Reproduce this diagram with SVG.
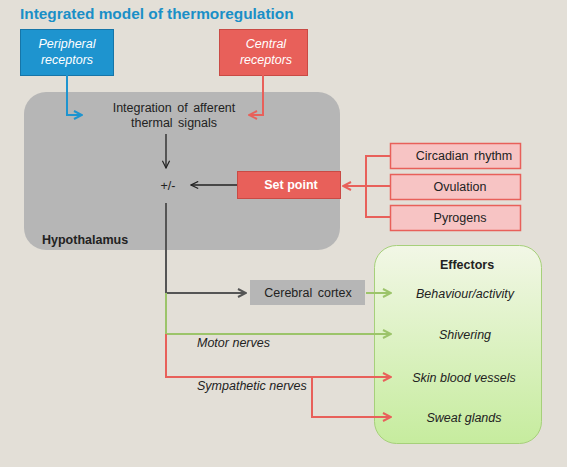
<svg xmlns="http://www.w3.org/2000/svg" width="567" height="467" viewBox="0 0 567 467">
<defs>
<linearGradient id="eg" x1="0" y1="0" x2="0" y2="1">
<stop offset="0" stop-color="#f2f7e6"/>
<stop offset="1" stop-color="#c6ec9e"/>
</linearGradient>
<marker id="aBlue" viewBox="0 0 10 10" refX="9" refY="5" markerWidth="5" markerHeight="5" orient="auto" markerUnits="strokeWidth"><path d="M1,1 L9,5 L1,9" fill="none" stroke="#1e94cf" stroke-width="2"/></marker>
<marker id="aRed" viewBox="0 0 10 10" refX="9" refY="5" markerWidth="5" markerHeight="5" orient="auto" markerUnits="strokeWidth"><path d="M1,1 L9,5 L1,9" fill="none" stroke="#e8605a" stroke-width="2"/></marker>
<marker id="aBlk" viewBox="0 0 10 10" refX="9" refY="5" markerWidth="9" markerHeight="9" orient="auto" markerUnits="userSpaceOnUse"><path d="M1,1 L9,5 L1,9" fill="none" stroke="#222" stroke-width="1.3"/></marker>
<marker id="aGray" viewBox="0 0 10 10" refX="9" refY="5" markerWidth="5" markerHeight="5" orient="auto" markerUnits="strokeWidth"><path d="M1,1 L9,5 L1,9" fill="none" stroke="#555" stroke-width="2"/></marker>
<marker id="aGreen" viewBox="0 0 10 10" refX="9" refY="5" markerWidth="5" markerHeight="5" orient="auto" markerUnits="strokeWidth"><path d="M1,1 L9,5 L1,9" fill="none" stroke="#9cc46a" stroke-width="2"/></marker>
</defs>
<style>
text{font-family:"Liberation Sans",Arial,sans-serif;font-size:12.5px;fill:#222}
.c{text-anchor:middle}
.it{font-style:italic}
.b{font-weight:bold}
.w{fill:#fff}
.pink{fill:#f7c4c4;stroke:#e8605a;stroke-width:1.5}
.ln{fill:none;stroke-width:2}
</style>
<rect width="567" height="467" fill="#e3dfd7"/>
<text x="20" y="19" class="b" style="font-size:15.4px;fill:#1a8fc7">Integrated model of thermoregulation</text>

<g id="hypothalamus">
<rect x="24" y="92" width="316" height="158" rx="22" fill="#b6b6b6"/>
<text x="42" y="244" class="b">Hypothalamus</text>
<text x="174" y="112" class="c" style="word-spacing:2px">Integration of afferent</text>
<text x="174" y="127" class="c" style="word-spacing:2px">thermal signals</text>
<text x="168" y="190" class="c">+/-</text>
</g>
<g id="peripheral">
<rect x="20.5" y="29.5" width="93" height="46" fill="#1e94cf" stroke="#1675a8"/>
<text x="67" y="48" class="c it w">Peripheral</text>
<text x="67" y="64" class="c it w">receptors</text>
</g>
<g id="central">
<rect x="219.5" y="29.5" width="88" height="46" fill="#e8605a" stroke="#c94a44"/>
<text x="266" y="48" class="c it w">Central</text>
<text x="266" y="64" class="c it w">receptors</text>
</g>
<g id="setpoint">
<rect x="237.5" y="171.5" width="103" height="27" fill="#e8605a" stroke="#c94a44"/>
<text x="291" y="189" class="c b w">Set point</text>
</g>
<g id="circadian">
<rect x="390.5" y="143.5" width="130" height="25" class="pink"/>
<text x="464" y="160" class="c" style="word-spacing:2px">Circadian rhythm</text>
</g>
<g id="ovulation">
<rect x="390.5" y="174.5" width="130" height="25" class="pink"/>
<text x="460" y="191" class="c">Ovulation</text>
</g>
<g id="pyrogens">
<rect x="390.5" y="205.5" width="130" height="25" class="pink"/>
<text x="460" y="222" class="c">Pyrogens</text>
</g>
<g id="cortex">
<rect x="250" y="280" width="115" height="25" fill="#b6b6b6"/>
<text x="308" y="297" class="c" style="word-spacing:2px">Cerebral cortex</text>
</g>
<g id="effectors">
<rect x="374.5" y="245.5" width="167" height="198" rx="22" fill="url(#eg)" stroke="#a6d07a"/>
<text x="467" y="269" class="c b">Effectors</text>
<text x="465" y="298" class="c it">Behaviour/activity</text>
<text x="465" y="339" class="c it">Shivering</text>
<text x="464" y="382" class="c it">Skin blood vessels</text>
<text x="464" y="422" class="c it">Sweat glands</text>
</g>
<g id="connectors">
<path d="M67,75 V115 H82" class="ln" stroke="#1e94cf" marker-end="url(#aBlue)"/>
<path d="M263,75 V115 H249" class="ln" stroke="#e8605a" marker-end="url(#aRed)"/>
<path d="M166,134 V168" fill="none" stroke="#222" stroke-width="1.3" marker-end="url(#aBlk)"/>
<path d="M237,185 H191" fill="none" stroke="#222" stroke-width="1.3" marker-end="url(#aBlk)"/>
<path d="M390,156 H366 V217 H390" class="ln" stroke="#e8605a"/>
<path d="M390,186 H343" class="ln" stroke="#e8605a" marker-end="url(#aRed)"/>
<path d="M166,203 V293 H246" class="ln" stroke="#555" marker-end="url(#aGray)"/>
<path d="M366,293 H391" class="ln" stroke="#9cc46a" marker-end="url(#aGreen)"/>
<path d="M166,293 V334 H391" class="ln" stroke="#9cc46a" marker-end="url(#aGreen)"/>
<path d="M166,334 V377 H391" class="ln" stroke="#e8605a" marker-end="url(#aRed)"/>
<path d="M312,377 V417 H391" class="ln" stroke="#e8605a" marker-end="url(#aRed)"/>
</g>
<text x="197" y="347" class="it">Motor nerves</text>
<text x="197" y="390" class="it">Sympathetic nerves</text>
</svg>
